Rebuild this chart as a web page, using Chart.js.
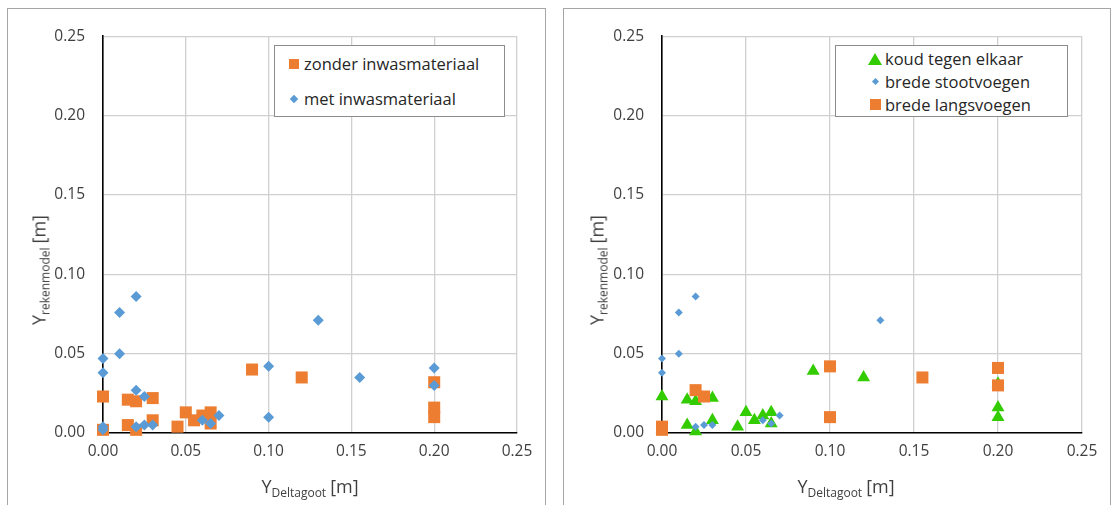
<!DOCTYPE html>
<html lang="nl">
<head>
<meta charset="utf-8">
<title>Y rekenmodel vs Y Deltagoot</title>
<script src="https://cdn.jsdelivr.net/npm/chart.js@4"></script>
<style>
    body {
        margin: 0;
        width: 1112px;
        height: 505px;
        overflow: hidden;
        position: relative;
        background: #fff;
        font-family: 'Open Sans', sans-serif;
        color: #404040;
    }
    .panel {
        position: absolute;
        top: 8px;
        height: 520px;
        border: 1px solid #a6a6a6;
        box-sizing: border-box;
        background: #fff;
    }
    #panelLeft { left: 7px; width: 539px; }
    #panelRight { left: 563px; width: 548px; }
    .chart-box { position: absolute; left: 0; top: 0; height: 500px; }
    #panelLeft .chart-box { width: 537px; }
    #panelRight .chart-box { width: 546px; }

    .legend {
        position: absolute;
        box-sizing: border-box;
        border: 1px solid #8c8c8c;
        background: #fff;
        font-size: 16.5px;
        color: #262626;
    }
    .legend .row { display: flex; align-items: center; white-space: nowrap; }
    .legend .mark { width: 14px; display: flex; justify-content: center; margin-right: 3px; }
    .sq { width: 10px; height: 10px; background: #ed7d31; }
    .dia { width: 6px; height: 6px; background: #5b9bd5; transform: rotate(45deg); }
    .tri { width: 0; height: 0; border-left: 7px solid transparent; border-right: 7px solid transparent; border-bottom: 12px solid #33cc00; }

    .ytitle, .xtitle {
        position: absolute;
        white-space: nowrap;
        font-size: 18px;
        color: #404040;
    }
    .ytitle { transform: translate(-50%, -50%) rotate(-90deg); }
    .xtitle { transform: translate(-50%, -50%); }
    .ytitle sub, .xtitle sub { font-size: 12px; vertical-align: -4px; margin-right: 4px; }
</style>
</head>
<body>

<div class="panel" id="panelLeft">
    <div class="chart-box"><canvas id="chartLeft"></canvas></div>
</div>
<div class="panel" id="panelRight">
    <div class="chart-box"><canvas id="chartRight"></canvas></div>
</div>

<!-- legends -->
<div class="legend" style="left:274px; top:45px; width:231px; height:72px; padding-left:12px;">
    <div class="row" style="height:35px;"><span class="mark"><span class="sq"></span></span>zonder inwasmateriaal</div>
    <div class="row" style="height:35px;"><span class="mark"><span class="dia"></span></span>met inwasmateriaal</div>
</div>
<div class="legend" style="left:835px; top:45px; width:233px; height:72px; padding-left:32px; padding-top:1px;">
    <div class="row" style="height:23px;"><span class="mark"><span class="tri"></span></span>koud tegen elkaar</div>
    <div class="row" style="height:23px;"><span class="mark"><span class="dia" style="width:5px;height:5px;"></span></span>brede stootvoegen</div>
    <div class="row" style="height:23px;"><span class="mark"><span class="sq" style="width:11px;height:11px;"></span></span>brede langsvoegen</div>
</div>

<!-- axis titles -->
<div class="ytitle" style="left:40px; top:270px;">Y<sub>rekenmodel</sub>[m]</div>
<div class="xtitle" style="left:310px; top:487px;">Y<sub>Deltagoot</sub>[m]</div>
<div class="ytitle" style="left:598px; top:270px;">Y<sub>rekenmodel</sub>[m]</div>
<div class="xtitle" style="left:846px; top:487px;">Y<sub>Deltagoot</sub>[m]</div>

<script>
// axis ticks (both charts share the same range)
const axisTicks = [0.00, 0.05, 0.10, 0.15, 0.20, 0.25];

// left chart: zonder / met inwasmateriaal
const zonderX = [0, 0, 0.015, 0.015, 0.02, 0.02, 0.03, 0.03, 0.045, 0.05, 0.055, 0.06, 0.065, 0.065, 0.09, 0.12, 0.2, 0.2, 0.2];
const zonderY = [0.023, 0.002, 0.021, 0.005, 0.020, 0.002, 0.022, 0.008, 0.004, 0.013, 0.008, 0.011, 0.013, 0.006, 0.040, 0.035, 0.032, 0.016, 0.010];

const metX = [0, 0, 0, 0, 0.01, 0.01, 0.02, 0.02, 0.02, 0.025, 0.025, 0.03, 0.06, 0.065, 0.07, 0.1, 0.1, 0.13, 0.155, 0.2, 0.2];
const metY = [0.047, 0.038, 0.004, 0.002, 0.076, 0.050, 0.086, 0.027, 0.004, 0.023, 0.005, 0.005, 0.008, 0.006, 0.011, 0.042, 0.010, 0.071, 0.035, 0.041, 0.030];

// right chart: split by joint type
const koudX = [0, 0, 0.015, 0.015, 0.02, 0.02, 0.03, 0.03, 0.045, 0.05, 0.055, 0.06, 0.065, 0.065, 0.09, 0.12, 0.2, 0.2, 0.2];
const koudY = [0.023, 0.002, 0.021, 0.005, 0.020, 0.001, 0.022, 0.008, 0.004, 0.013, 0.008, 0.011, 0.013, 0.006, 0.039, 0.035, 0.031, 0.016, 0.010];

const stootX = [0, 0, 0.01, 0.01, 0.02, 0.02, 0.025, 0.03, 0.06, 0.065, 0.07, 0.13];
const stootY = [0.047, 0.038, 0.076, 0.050, 0.086, 0.004, 0.005, 0.005, 0.008, 0.006, 0.011, 0.071];

const langsX = [0, 0, 0.02, 0.025, 0.1, 0.1, 0.155, 0.2, 0.2];
const langsY = [0.004, 0.002, 0.027, 0.023, 0.042, 0.010, 0.035, 0.041, 0.030];

const ORANGE = '#ed7d31';
const BLUE = '#5b9bd5';
const GREEN = '#33cc00';

function toPoints(xs, ys) {
    return xs.map((x, i) => ({ x: x, y: ys[i] }));
}

function series(label, xs, ys, style, radius, color) {
    return {
        label: label,
        data: toPoints(xs, ys),
        pointStyle: style,
        pointRadius: radius,
        pointHoverRadius: radius,
        backgroundColor: color,
        borderColor: color,
        borderWidth: 0,
        showLine: false,
        clip: false // markers on the axes are drawn whole
    };
}

function axis(fixedSize, isX) {
    return {
        type: 'linear',
        min: 0,
        max: 0.25,
        afterBuildTicks: (scale) => {
            scale.ticks = axisTicks.map(v => ({ value: v }));
        },
        afterFit: (scale) => {
            if (isX) scale.height = fixedSize;
            else scale.width = fixedSize;
        },
        ticks: {
            padding: isX ? 9 : 18,
            color: '#404040',
            font: { family: "'Open Sans', sans-serif", size: 15.5 },
            callback: (v) => Number(v).toFixed(2)
        },
        grid: { color: '#d0d0d0', lineWidth: 1.3, drawTicks: false },
        border: { color: '#000', width: 1.6 }
    };
}

function makeChart(canvasId, datasets, yWidth, rightPad) {
    const ctx = document.getElementById(canvasId).getContext('2d');
    return new Chart(ctx, {
        type: 'scatter',
        data: { datasets: datasets },
        options: {
            responsive: true,
            maintainAspectRatio: false,
            animation: false,
            layout: { padding: { top: 23, right: rightPad, left: 0, bottom: 0 } },
            plugins: { legend: { display: false }, tooltip: { enabled: false } },
            scales: {
                x: axis(76, true),
                y: axis(yWidth, false)
            }
        }
    });
}

// dataset 0 is drawn on top, so the later Excel series come first
makeChart('chartLeft', [
    series('met inwasmateriaal', metX, metY, 'rectRot', 5.5, BLUE),
    series('zonder inwasmateriaal', zonderX, zonderY, 'rect', 8.5, ORANGE)
], 95, 28);

makeChart('chartRight', [
    series('brede langsvoegen', langsX, langsY, 'rect', 8.5, ORANGE),
    series('brede stootvoegen', stootX, stootY, 'rectRot', 4, BLUE),
    series('koud tegen elkaar', koudX, koudY, 'triangle', 7.5, GREEN)
], 98, 28);
</script>
</body>
</html>
